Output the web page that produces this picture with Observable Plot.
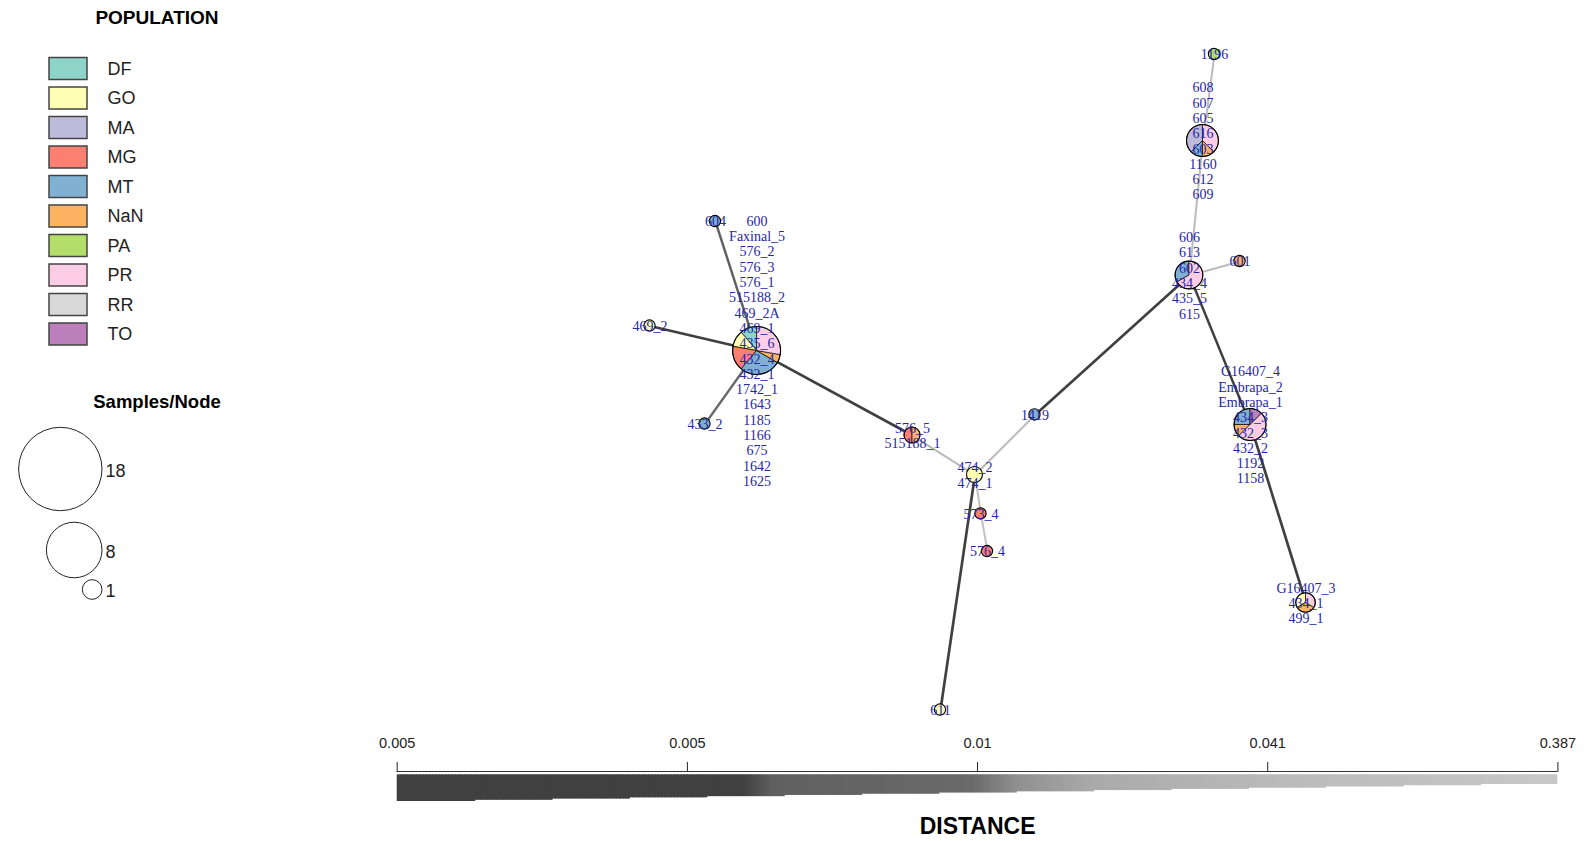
<!DOCTYPE html>
<html>
<head>
<meta charset="utf-8">
<script src="https://cdn.jsdelivr.net/npm/d3@7"></script>
<script src="https://cdn.jsdelivr.net/npm/@observablehq/plot@0.6"></script>
<style>
  html, body { margin: 0; padding: 0; background: #fff; }
  #chart { position: relative; width: 1584px; height: 841px; overflow: hidden;
           font-family: "Liberation Sans", Arial, sans-serif; }
  #chart > * { position: absolute; }
  .ttl { font-weight: bold; font-size: 19px; line-height: 19px; color: #000;
         transform: translateX(-50%); white-space: nowrap; }
</style>
</head>
<body>
<div id="chart"></div>
<script>
// ---- populations (legend order) ----
const populations = ["DF", "GO", "MA", "MG", "MT", "NaN", "PA", "PR", "RR", "TO"];
const popColors = d3.schemeSet3.slice(0, 10);

// ---- network nodes: layout position, sample labels, population counts ----
const nodeIds = ["600", "604", "469_2", "433_2", "576_5", "474_2", "573_4", "576_4",
                 "611", "1419", "606", "601", "608", "1196", "G16407_4", "499_1"];
const nodeX = [20.88, 15.33, 6.60, 13.93, 41.60, 49.93, 50.73, 51.60,
               45.33, 57.93, 78.53, 85.27, 80.33, 81.87, 86.67, 94.07];
const nodeY = [54.34, 73.38, 58.01, 43.60, 41.91, 36.10, 30.37, 24.85,
               1.54, 44.93, 65.44, 67.50, 85.22, 97.94, 43.46, 17.28];
const nodeLabels = [
  ["600", "Faxinal_5", "576_2", "576_3", "576_1", "515188_2", "469_2A", "469_1", "435_6",
   "432_4", "432_1", "1742_1", "1643", "1185", "1166", "675", "1642", "1625"],
  ["604"], ["469_2"], ["433_2"],
  ["576_5", "515188_1"],
  ["474_2", "474_1"],
  ["573_4"], ["576_4"], ["611"], ["1419"],
  ["606", "613", "602", "434_4", "435_5", "615"],
  ["601"],
  ["608", "607", "605", "616", "603", "1160", "612", "609"],
  ["1196"],
  ["G16407_4", "Embrapa_2", "Embrapa_1", "434_3", "432_3", "432_2", "1192", "1158"],
  ["G16407_3", "434_1", "499_1"]
];
const nodePops = [
  [["DF", 2], ["GO", 2], ["MG", 3], ["MT", 5], ["NaN", 1], ["PR", 5]],
  [["MT", 1]], [["GO", 1]], [["MT", 1]],
  [["MG", 1], ["NaN", 1]],
  [["GO", 2]],
  [["MG", 1]], [["MG", 1]], [["GO", 1]], [["MT", 1]],
  [["MT", 2], ["PR", 4]],
  [["NaN", 1]],
  [["MA", 3], ["MT", 1], ["NaN", 1], ["PR", 3]],
  [["PA", 1]],
  [["MT", 2], ["NaN", 1], ["PR", 4], ["TO", 1]],
  [["GO", 1], ["NaN", 1], ["PR", 1]]
];

// ---- minimum spanning edges and their distances ----
const edgeFrom = ["600", "600", "600", "600", "576_5", "474_2", "1419", "474_2", "573_4",
                  "474_2", "606", "608", "606", "606", "G16407_4"];
const edgeTo   = ["604", "469_2", "433_2", "576_5", "474_2", "1419", "606", "573_4", "576_4",
                  "611", "608", "1196", "601", "G16407_4", "499_1"];
const edgeDist = [0.0068, 0.0047, 0.0095, 0.0047, 0.09, 0.08, 0.0047, 0.2, 0.25,
                  0.0047, 0.12, 0.15, 0.1, 0.0062, 0.0047];

// ---- distance scale bar ----
const distanceTicks = [0.0046, 0.0054, 0.0100, 0.0410, 0.3870];
const distanceTickLabels = ["0.005", "0.005", "0.01", "0.041", "0.387"];

// ---- node size legend ----
const sampleSizes = [18, 8, 1];

// gray ramp along the scale bar (position 0..1 -> gray)
const rampPos  = [0, 0.298, 0.324, 0.496, 0.535, 0.60, 0.76, 1];
const rampGray = ["#404040", "#404040", "#606060", "#6a6a6a", "#909090", "#aaaaaa", "#bababa", "#c8c8c8"];
const grayAt = d3.scaleLinear().domain(rampPos).range(rampGray).interpolate(d3.interpolateRgb).clamp(true);
const distToPos = d3.scaleLinear().domain(distanceTicks).range([0, 0.25, 0.5, 0.75, 1]).clamp(true);
const popColor = d3.scaleOrdinal(populations, popColors);

const chart = document.getElementById("chart");

// ---------------- network ----------------
const nodes = nodeIds.map((id, i) => ({
  id, x: nodeX[i], y: nodeY[i], labels: nodeLabels[i], pops: nodePops[i],
  n: d3.sum(nodePops[i], p => p[1])
}));
const byId = new Map(nodes.map(d => [d.id, d]));
const edges = edgeFrom.map((f, i) => ({ source: byId.get(f), target: byId.get(edgeTo[i]), dist: edgeDist[i] }));
const nodeR = d3.scaleSqrt().domain([0, 18]).range([0, 24]);

// pie-chart vertices, placed with the plot's x/y scales
function pieNodes(index, scales) {
  const sx = scales.x, sy = scales.y;
  const g = d3.create("svg:g");
  const arc = d3.arc();
  for (const d of nodes) {
    const r = nodeR(d.n);
    const ng = g.append("g").attr("transform", `translate(${sx(d.x)},${sy(d.y)})`);
    if (d.pops.length === 1) {
      ng.append("circle").attr("r", r).attr("fill", popColor(d.pops[0][0]));
    } else {
      let a = 0;
      for (const [p, c] of d.pops) {
        const da = c / d.n * 2 * Math.PI;
        ng.append("path")
          .attr("d", arc({ innerRadius: 0, outerRadius: r, startAngle: -a - da, endAngle: -a }))
          .attr("fill", popColor(p)).attr("stroke", "#000").attr("stroke-width", 0.7);
        a += da;
      }
    }
    ng.append("circle").attr("r", r).attr("fill", "none").attr("stroke", "#000").attr("stroke-width", 1.1);
  }
  return g.node();
}

const net = Plot.plot({
  width: 1584, height: 841, margin: 0,
  x: { domain: [0, 100], range: [600, 1350], axis: null },
  y: { domain: [0, 100], range: [720, 40], axis: null },
  marks: [
    Plot.link(edges, {
      x1: d => d.source.x, y1: d => d.source.y, x2: d => d.target.x, y2: d => d.target.y,
      stroke: d => grayAt(distToPos(d.dist)),
      strokeWidth: d => 2.7 - 0.8 * distToPos(d.dist)
    }),
    pieNodes,
    Plot.text(nodes, {
      x: "x", y: "y", text: d => d.labels.join("\n"), dy: 0,
      lineHeight: 1.093, fontSize: 14, fontFamily: "Liberation Serif, serif", fill: "#2626a6"
    })
  ]
});
net.style.left = "0px"; net.style.top = "0px";
chart.appendChild(net);

// ---------------- population legend ----------------
const popTitle = document.createElement("div");
popTitle.className = "ttl"; popTitle.textContent = "POPULATION";
popTitle.style.left = "157px"; popTitle.style.top = "8px";
chart.appendChild(popTitle);

const popLegend = Plot.plot({
  width: 200, height: 360, margin: 0,
  x: { domain: [0, 200], range: [0, 200], axis: null },
  y: { type: "band", domain: populations, range: [57.5, 345], paddingInner: 0.254, paddingOuter: 0,
       round: false, axis: null },
  color: { domain: populations, range: popColors },
  style: { fontFamily: "Liberation Sans, Arial, sans-serif" },
  marks: [
    Plot.barX(populations, { y: d => d, x1: 49, x2: 87, fill: d => d, stroke: "#444", strokeWidth: 1.5 }),
    Plot.text(populations, { y: d => d, x: 107, text: d => d, textAnchor: "start", fontSize: 18, fill: "#222" })
  ]
});
popLegend.style.left = "0px"; popLegend.style.top = "0px";
chart.appendChild(popLegend);

// ---------------- samples per node legend ----------------
const sizeTitle = document.createElement("div");
sizeTitle.className = "ttl"; sizeTitle.textContent = "Samples/Node";
sizeTitle.style.left = "157px"; sizeTitle.style.top = "392px"; sizeTitle.style.fontSize = "18.5px";
chart.appendChild(sizeTitle);

const legendR = d3.scaleSqrt().domain([0, 18]).range([0, 41.7]);
const sizeRowY = [88.5, 169.5, 209];   // circle centres within the legend block
const sizeLegend = Plot.plot({
  width: 160, height: 230, margin: 0,
  x: { domain: [0, 160], range: [0, 160], axis: null },
  y: { domain: [0, 230], range: [0, 230], axis: null },
  r: { type: "sqrt", domain: [0, 18], range: [0, 41.7] },
  style: { fontFamily: "Liberation Sans, Arial, sans-serif" },
  marks: [
    Plot.dot(sampleSizes, { x: d => 101.5 - legendR(d), y: (d, i) => sizeRowY[i], r: d => d,
                            stroke: "#222", strokeWidth: 1, fill: "none" }),
    Plot.text(sampleSizes, { x: 105, y: (d, i) => sizeRowY[i] + 2, text: d => String(d),
                             textAnchor: "start", fontSize: 18, fill: "#222" })
  ]
});
sizeLegend.style.left = "0px"; sizeLegend.style.top = "380px";
chart.appendChild(sizeLegend);

// ---------------- distance scale bar ----------------
const nSteps = 15, perStep = 24;
const slices = d3.range(nSteps * perStep).map(i => {
  const t0 = i / (nSteps * perStep), t1 = (i + 1) / (nSteps * perStep);
  const k = Math.min(nSteps - 1, Math.floor(i / perStep));
  return { x1: t0 * 4, x2: Math.min(4, t1 * 4 + 0.004), bottom: 81 - (81 - 64) * k / (nSteps - 1),
           color: grayAt((t0 + t1) / 2) };
});

const bar = Plot.plot({
  width: 1584, height: 121, marginTop: 51, marginBottom: 0, marginLeft: 0, marginRight: 0,
  x: { domain: [0, 4], range: [396.7, 1557.4], axis: "top", ticks: [0, 1, 2, 3, 4],
       tickFormat: i => distanceTickLabels[i], tickSize: 10, tickPadding: 14, label: null },
  y: { domain: [0, 121], range: [0, 121], axis: null },
  style: { fontFamily: "Liberation Sans, Arial, sans-serif", fontSize: "14.5px", color: "#222" },
  marks: [
    Plot.ruleY([51], { x1: 0, x2: 4, stroke: "#333", strokeWidth: 1 }),
    Plot.rect(slices, { x1: "x1", x2: "x2", y1: 54.3, y2: "bottom", fill: "color", inset: 0 }),
    Plot.text(["DISTANCE"], { x: 2, y: 106, text: d => d, fontSize: 23, fontWeight: "bold", fill: "#000" })
  ]
});
bar.style.left = "0px"; bar.style.top = "720px";
chart.appendChild(bar);
</script>
</body>
</html>
